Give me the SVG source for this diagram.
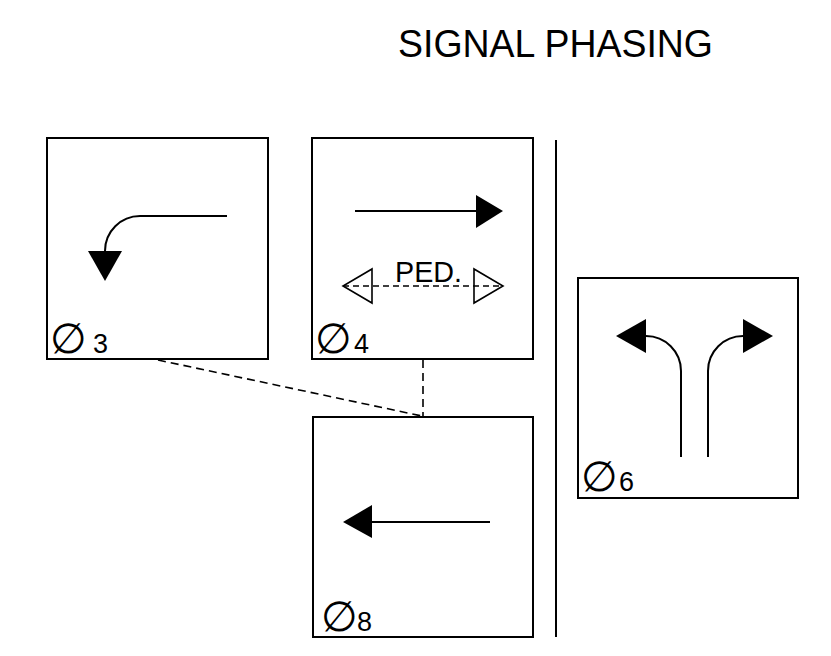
<svg xmlns="http://www.w3.org/2000/svg" width="831" height="656" viewBox="0 0 831 656">
<style>
.box{fill:#fff;stroke:#000;stroke-width:2}
.ln{fill:none;stroke:#000;stroke-width:2}
.hd{fill:#000;stroke:none}
.open{fill:none;stroke:#000;stroke-width:1.6}
.dash{fill:none;stroke:#000;stroke-width:1.6;stroke-dasharray:8,5}
.lbl{font-family:"Liberation Sans",Arial,sans-serif;font-size:27px;fill:#000}
.dia{font-family:"DejaVu Sans",sans-serif;font-size:42px;fill:#000}
.ped{font-family:"Liberation Sans",Arial,sans-serif;font-size:29px;fill:#000}
.title{font-family:"Liberation Sans",Arial,sans-serif;font-size:38px;fill:#000}
</style>
<rect width="831" height="656" fill="#fff"/>
<text class="title" x="398" y="57" textLength="315" lengthAdjust="spacingAndGlyphs">SIGNAL PHASING</text>
<g id="connectors">
<path class="dash" d="M158,360 L422,416"/>
<path class="dash" d="M423,360 V416"/>
<path class="ln" d="M556,140 V637"/>
</g>
<g id="phase3">
<rect class="box" x="47" y="138" width="221" height="221"/>
<path class="ln" d="M227,216 H140 A35,35 0 0 0 105,251"/>
<polygon class="hd" points="88,251 122,251 105,281"/>
<text class="lbl" x="50" y="353"><tspan class="dia">∅</tspan><tspan x="93">3</tspan></text>
</g>
<g id="phase4">
<rect class="box" x="312" y="138" width="221" height="221"/>
<path class="ln" d="M355,211 H476"/>
<polygon class="hd" points="476,195 476,228 503,211"/>
<path class="dash" d="M343,286 H503" style="stroke-dasharray:6,4;stroke-width:1.4"/>
<polygon class="open" points="372,269 372,303 343,286"/>
<polygon class="open" points="474,269 474,303 503,286"/>
<text class="ped" x="395" y="282" textLength="67" lengthAdjust="spacingAndGlyphs">PED.</text>
<text class="lbl" x="315" y="353"><tspan class="dia">∅</tspan><tspan x="354">4</tspan></text>
</g>
<g id="phase6">
<rect class="box" x="578" y="278" width="220" height="220"/>
<path class="ln" d="M681,457 V371 A35,35 0 0 0 646,336"/>
<polygon class="hd" points="646,319 646,353 616,336"/>
<path class="ln" d="M708,457 V371 A35,35 0 0 1 743,336"/>
<polygon class="hd" points="743,319 743,353 773,336"/>
<text class="lbl" x="581" y="491"><tspan class="dia">∅</tspan><tspan x="619">6</tspan></text>
</g>
<g id="phase8">
<rect class="box" x="313" y="417" width="220" height="220"/>
<path class="ln" d="M490,522 H372"/>
<polygon class="hd" points="372,505 372,538 343,522"/>
<text class="lbl" x="321" y="631"><tspan class="dia">∅</tspan><tspan x="357">8</tspan></text>
</g>
</svg>
